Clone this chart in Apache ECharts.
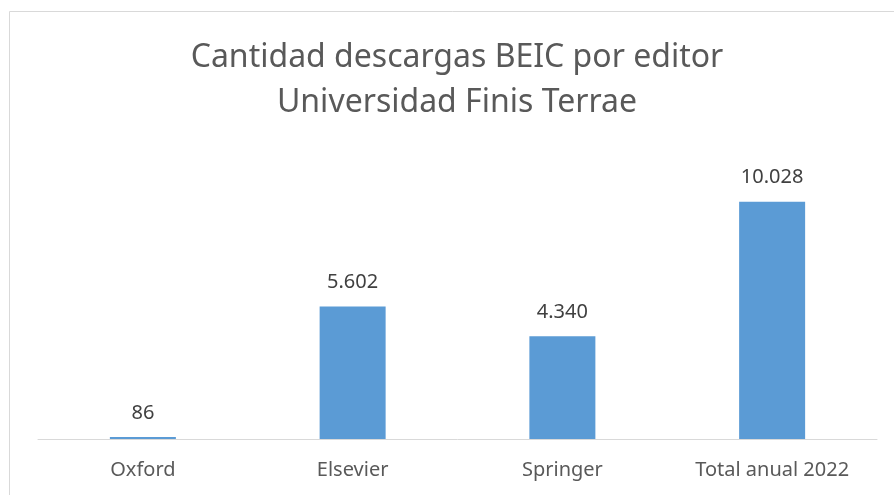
<!DOCTYPE html>
<html>
<head>
<meta charset="utf-8">
<script src="https://cdn.jsdelivr.net/npm/echarts@6/dist/echarts.min.js"></script>
<style>
    html, body { margin: 0; padding: 0; background: #fff; }
    #main { width: 894px; height: 495px; }
</style>
</head>
<body>
<div id="main"></div>
<script>
// datos
var titulo = ['Cantidad descargas BEIC por editor', 'Universidad Finis Terrae'];
var editores = ['Oxford', 'Elsevier', 'Springer', 'Total anual 2022'];
var descargas = [86, 5602, 4340, 10028];

function formatoMiles(v) {
    return String(v).replace(/\B(?=(\d{3})+(?!\d))/g, '.');
}

var chart = echarts.init(document.getElementById('main'));
var option = {
    animation: false,
    graphic: [
        // marco del gráfico
        {
            type: 'rect',
            shape: { x: 9.5, y: 11.5, width: 900, height: 500 },
            style: { fill: 'none', stroke: '#d9d9d9', lineWidth: 1 },
            silent: true
        },
        // título centrado en el marco
        {
            type: 'text',
            x: 457,
            y: 35,
            silent: true,
            style: {
                text: titulo.join('\n'),
                textAlign: 'center',
                fill: '#595959',
                font: '32px "Noto Sans"',
                lineHeight: 45
            }
        }
    ],
    grid: {
        left: 38,
        right: 17,
        top: 155,
        bottom: 56
    },
    xAxis: {
        type: 'category',
        data: editores,
        axisLine: { lineStyle: { color: '#d9d9d9', width: 1 } },
        axisTick: { show: false },
        axisLabel: {
            color: '#595959',
            fontFamily: 'Noto Sans',
            fontSize: 20,
            margin: 21
        }
    },
    yAxis: {
        type: 'value',
        min: 0,
        max: 12000,
        show: false,
        splitLine: { show: false }
    },
    series: [
        {
            type: 'bar',
            data: descargas,
            barWidth: 66,
            itemStyle: { color: '#5b9bd5' },
            label: {
                show: true,
                position: 'top',
                distance: 14,
                color: '#404040',
                fontFamily: 'Noto Sans',
                fontSize: 20,
                formatter: function (p) { return formatoMiles(p.value); }
            }
        }
    ]
};
chart.setOption(option);
window.addEventListener('resize', function () {
    chart.resize();
});
</script>
</body>
</html>
